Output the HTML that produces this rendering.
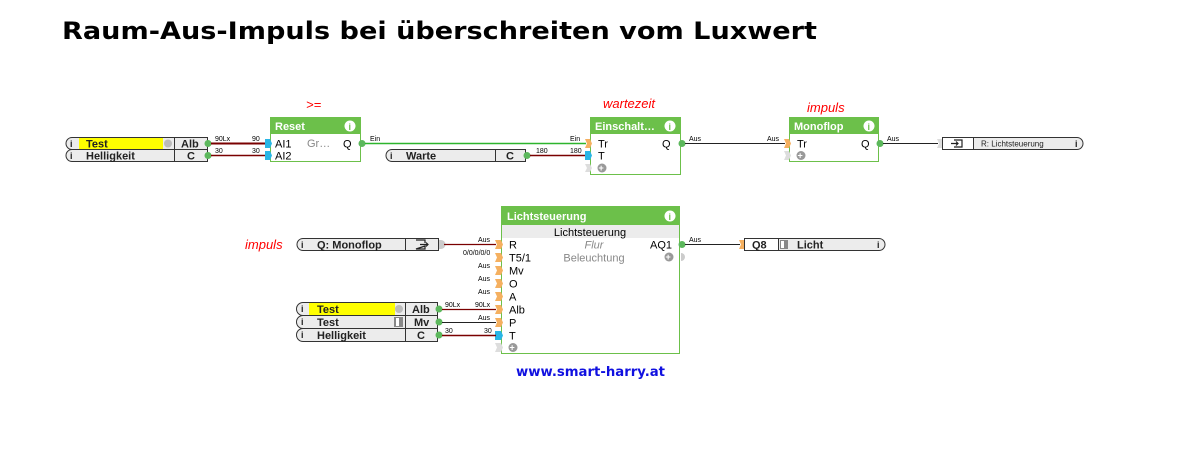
<!DOCTYPE html>
<html><head><meta charset="utf-8"><style>
html,body{margin:0;padding:0;background:#fff;width:1195px;height:453px;overflow:hidden}
svg{display:block}
text{font-family:"Liberation Sans",Arial,sans-serif}
.t{font-size:11px;fill:#000}
.tb{font-size:11px;font-weight:bold;fill:#222}
.s{font-size:7px;fill:#000}
.h{font-size:11px;font-weight:bold;fill:#fff}
.g{font-size:11px;fill:#888}
.red{font-size:13px;font-style:italic;fill:#f00}
.pill{fill:#ececec;stroke:#333;stroke-width:1}
.ii{font-size:9px;font-weight:bold;fill:#222}
</style></head><body>
<svg width="1195" height="453" xmlns="http://www.w3.org/2000/svg">
<text x="62" y="39" style="font-family:'DejaVu Sans',Verdana,sans-serif;font-weight:bold;font-size:24px" textLength="755" lengthAdjust="spacingAndGlyphs">Raum-Aus-Impuls bei überschreiten vom Luxwert</text>

<path class="pill" d="M72,137.5H207.5V149.5H72A6,6 0 0 1 72,137.5Z"/>
<path class="pill" d="M72,149.5H207.5V161.5H72A6,6 0 0 1 72,149.5Z"/>
<rect x="79" y="138" width="84" height="11" fill="#ffff00"/>
<circle cx="168" cy="143.5" r="4" fill="#bbb"/>
<line x1="174.5" y1="137.5" x2="174.5" y2="161.5" stroke="#333"/>
<text x="70" y="147" class="ii">i</text><text x="70" y="159" class="ii">i</text>
<text x="86" y="147.5" class="tb">Test</text>
<text x="86" y="159.5" class="tb">Helligkeit</text>
<text x="181" y="147.5" class="tb">Alb</text>
<text x="187" y="159.5" class="tb">C</text>
<circle cx="208" cy="143.5" r="3.5" fill="#5cb85c"/><circle cx="208" cy="155.5" r="3.5" fill="#5cb85c"/>
<line x1="211" y1="143.5" x2="266" y2="143.5" stroke="#7a0000" stroke-width="2"/>
<line x1="211" y1="155.5" x2="266" y2="155.5" stroke="#7a0000" stroke-width="1.5"/>
<text x="215" y="141" class="s">90Lx</text><text x="252" y="141" class="s">90</text>
<text x="215" y="153" class="s">30</text><text x="252" y="153" class="s">30</text>

<text x="306" y="109" class="red" font-style="normal" font-size="12">&gt;=</text>
<rect x="270.5" y="117.5" width="90" height="44" fill="#fff" stroke="#6cc04a"/>
<rect x="270" y="117" width="91" height="17" fill="#6cc04a"/>
<text x="275" y="130" class="h">Reset</text>
<circle cx="350" cy="126" r="5.5" fill="#fff"/><text x="348.5" y="130" font-size="9" font-weight="bold" fill="#6cc04a">i</text>
<path d="M265,139H270L272,143.5L270,148H265Z" fill="#29b6e6"/>
<path d="M265,151H270L272,155.5L270,160H265Z" fill="#29b6e6"/>
<text x="275" y="147.5" class="t">AI1</text><text x="275" y="159.5" class="t">AI2</text>
<text x="307" y="147" class="g">Gr…</text><text x="343" y="147.5" class="t">Q</text>
<circle cx="362" cy="143.5" r="3.5" fill="#5cb85c"/>
<line x1="365" y1="143.5" x2="586" y2="143.5" stroke="#2db52d" stroke-width="1.5"/>
<text x="370" y="141" class="s">Ein</text><text x="570" y="141" class="s">Ein</text>

<path class="pill" d="M392,149.5H525.5V161.5H392A6,6 0 0 1 392,149.5Z"/>
<line x1="495.5" y1="149.5" x2="495.5" y2="161.5" stroke="#333"/>
<text x="390" y="159" class="ii">i</text>
<text x="406" y="159.5" class="tb">Warte</text><text x="506" y="159.5" class="tb">C</text>
<circle cx="527" cy="155.5" r="3.5" fill="#5cb85c"/>
<line x1="530" y1="155.5" x2="586" y2="155.5" stroke="#7a0000" stroke-width="1.5"/>
<text x="536" y="153" class="s">180</text><text x="570" y="153" class="s">180</text>

<text x="603" y="108" class="red">wartezeit</text>
<rect x="590.5" y="117.5" width="90" height="57" fill="#fff" stroke="#6cc04a"/>
<rect x="590" y="117" width="91" height="17" fill="#6cc04a"/>
<text x="595" y="130" class="h">Einschalt…</text>
<circle cx="670" cy="126" r="5.5" fill="#fff"/><text x="668.5" y="130" font-size="9" font-weight="bold" fill="#6cc04a">i</text>
<path d="M585,139H590L592,143.5L590,148H585L587,143.5Z" fill="#f5b060"/>
<path d="M585,151H590L592,155.5L590,160H585Z" fill="#29b6e6"/>
<path d="M585,164H590L592,168L590,172H585L587,168Z" fill="#ddd"/>
<text x="598" y="147.5" class="t">Tr</text><text x="598" y="159.5" class="t">T</text>
<circle cx="602" cy="168" r="4.5" fill="#999"/><text x="598.5" y="171" font-size="9" fill="#fff" font-weight="bold">+</text>
<text x="662" y="147.5" class="t">Q</text>
<circle cx="682" cy="143.5" r="3.5" fill="#5cb85c"/>
<line x1="685" y1="143.5" x2="785" y2="143.5" stroke="#222"/>
<text x="689" y="141" class="s">Aus</text><text x="767" y="141" class="s">Aus</text>

<text x="807" y="112" class="red">impuls</text>
<rect x="789.5" y="117.5" width="89" height="44" fill="#fff" stroke="#6cc04a"/>
<rect x="789" y="117" width="90" height="17" fill="#6cc04a"/>
<text x="794" y="130" class="h">Monoflop</text>
<circle cx="869" cy="126" r="5.5" fill="#fff"/><text x="867.5" y="130" font-size="9" font-weight="bold" fill="#6cc04a">i</text>
<path d="M784,139H789L791,143.5L789,148H784L786,143.5Z" fill="#f5b060"/>
<path d="M784,151H789L791,155.5L789,160H784L786,155.5Z" fill="#ddd"/>
<text x="797" y="147.5" class="t">Tr</text><text x="861" y="147.5" class="t">Q</text>
<circle cx="801" cy="155.5" r="4.5" fill="#999"/><text x="797.5" y="158.5" font-size="9" fill="#fff" font-weight="bold">+</text>
<circle cx="880" cy="143.5" r="3.5" fill="#5cb85c"/>
<line x1="883" y1="143.5" x2="938" y2="143.5" stroke="#222"/>
<text x="887" y="141" class="s">Aus</text>
<path d="M937,139H942V148H937L939,143.5Z" fill="#ddd"/>
<path class="pill" d="M942.5,137.5H1077A6,6 0 0 1 1077,149.5H942.5Z"/>
<rect x="943" y="138" width="30" height="11" fill="#fff"/>
<line x1="973.5" y1="137.5" x2="973.5" y2="149.5" stroke="#333"/>
<path d="M954,140H962V147H954M951,143.5H958M956,141.5L958,143.5L956,145.5" fill="none" stroke="#222" stroke-width="1.2"/>
<text x="981" y="146.5" font-size="8" fill="#222">R: Lichtsteuerung</text>
<text x="1075" y="147" class="ii">i</text>

<text x="245" y="249" class="red">impuls</text>
<path class="pill" d="M303,238.5H438.5V250.5H303A6,6 0 0 1 303,238.5Z"/>
<line x1="405.5" y1="238.5" x2="405.5" y2="250.5" stroke="#333"/>
<text x="301" y="248" class="ii">i</text>
<text x="317" y="248.5" class="tb">Q: Monoflop</text>
<path d="M416,240H425V243M425,246V249H416ZM420,244.5H428M426,242.5L428,244.5L426,246.5" fill="none" stroke="#222" stroke-width="1.2"/>
<path d="M439,240H441A4,4 0 0 1 441,249H439Z" fill="#ccc"/>
<line x1="444" y1="244.5" x2="496" y2="244.5" stroke="#7a0000" stroke-width="1.2"/>
<text x="478" y="242" class="s">Aus</text>

<rect x="501.5" y="206.5" width="178" height="147" fill="#fff" stroke="#6cc04a"/>
<rect x="501" y="206" width="179" height="19" fill="#6cc04a"/>
<text x="507" y="220" class="h">Lichtsteuerung</text>
<circle cx="670" cy="216" r="5.5" fill="#fff"/><text x="668.5" y="220" font-size="9" font-weight="bold" fill="#6cc04a">i</text>
<rect x="502" y="225" width="177" height="13" fill="#ececec"/>
<text x="590" y="236" class="t" fill="#333" text-anchor="middle">Lichtsteuerung</text>
<text x="594" y="248.5" class="g" text-anchor="middle" font-style="italic">Flur</text>
<text x="594" y="261.5" class="g" text-anchor="middle">Beleuchtung</text>
<text x="650" y="248.5" class="t">AQ1</text>
<circle cx="669" cy="257" r="4.5" fill="#999"/><text x="665.5" y="260" font-size="9" fill="#fff" font-weight="bold">+</text>
<circle cx="682" cy="244.5" r="3.5" fill="#5cb85c"/>
<path d="M681,253A4,4 0 0 1 681,261Z" fill="#ccc"/>
<line x1="685" y1="244.5" x2="740" y2="244.5" stroke="#222"/>
<text x="689" y="242" class="s">Aus</text>

<g fill="#f5b060">
<path d="M495,240H501L503,244.5L501,249H495L497,244.5Z"/>
<path d="M495,253H501L503,257.5L501,262H495L497,257.5Z"/>
<path d="M495,266H501L503,270.5L501,275H495L497,270.5Z"/>
<path d="M495,279H501L503,283.5L501,288H495L497,283.5Z"/>
<path d="M495,292H501L503,296.5L501,301H495L497,296.5Z"/>
<path d="M495,305H501L503,309.5L501,314H495L497,309.5Z"/>
<path d="M495,318H501L503,322.5L501,327H495L497,322.5Z"/>
</g>
<path d="M495,331H501L503,335.5L501,340H495Z" fill="#29b6e6"/>
<path d="M495,343H501L503,347.5L501,352H495L497,347.5Z" fill="#ddd"/>
<text x="509" y="248.5" class="t">R</text><text x="509" y="261.5" class="t">T5/1</text>
<text x="509" y="274.5" class="t">Mv</text><text x="509" y="287.5" class="t">O</text>
<text x="509" y="300.5" class="t">A</text><text x="509" y="313.5" class="t">Alb</text>
<text x="509" y="326.5" class="t">P</text><text x="509" y="339.5" class="t">T</text>
<circle cx="513" cy="347.5" r="4.5" fill="#999"/><text x="509.5" y="350.5" font-size="9" fill="#fff" font-weight="bold">+</text>
<text x="463" y="255" class="s">0/0/0/0/0</text>
<text x="478" y="268" class="s">Aus</text><text x="478" y="281" class="s">Aus</text><text x="478" y="294" class="s">Aus</text>

<path class="pill" d="M303,302.5H437.5V315.5H303A6,6 0 0 1 303,302.5Z"/>
<path class="pill" d="M303,315.5H437.5V328.5H303A6,6 0 0 1 303,315.5Z"/>
<path class="pill" d="M303,328.5H437.5V341.5H303A6,6 0 0 1 303,328.5Z"/>
<rect x="309" y="303" width="86" height="12" fill="#ffff00"/>
<circle cx="399" cy="309" r="4" fill="#bbb"/>
<rect x="394" y="317" width="9" height="10" fill="#888"/><rect x="396" y="318" width="3" height="8" fill="#fff"/>
<line x1="405.5" y1="302.5" x2="405.5" y2="341.5" stroke="#333"/>
<text x="301" y="312" class="ii">i</text><text x="301" y="325" class="ii">i</text><text x="301" y="338" class="ii">i</text>
<text x="317" y="313" class="tb">Test</text><text x="317" y="326" class="tb">Test</text><text x="317" y="339" class="tb">Helligkeit</text>
<text x="412" y="313" class="tb">Alb</text><text x="414" y="326" class="tb">Mv</text><text x="417" y="339" class="tb">C</text>
<circle cx="439" cy="309" r="3.5" fill="#5cb85c"/><circle cx="439" cy="322" r="3.5" fill="#5cb85c"/><circle cx="439" cy="335" r="3.5" fill="#5cb85c"/>
<line x1="442" y1="309.5" x2="496" y2="309.5" stroke="#7a0000" stroke-width="1.2"/>
<line x1="442" y1="322.5" x2="496" y2="322.5" stroke="#222"/>
<line x1="442" y1="335.5" x2="496" y2="335.5" stroke="#7a0000" stroke-width="1.5"/>
<text x="445" y="307" class="s">90Lx</text><text x="475" y="307" class="s">90Lx</text>
<text x="478" y="320" class="s">Aus</text>
<text x="445" y="333" class="s">30</text><text x="484" y="333" class="s">30</text>

<path d="M739,240H744V249H739L741,244.5Z" fill="#f5b060"/>
<path class="pill" d="M744.5,238.5H879A6,6 0 0 1 879,250.5H744.5Z"/>
<rect x="745" y="239" width="33" height="11" fill="#fff"/>
<line x1="778.5" y1="238.5" x2="778.5" y2="250.5" stroke="#333"/>
<rect x="780" y="240" width="8" height="9" fill="#888"/><rect x="781" y="241" width="3" height="7" fill="#fff"/>
<text x="752" y="248.5" class="tb">Q8</text>
<text x="797" y="248.5" class="tb">Licht</text>
<text x="877" y="248" class="ii">i</text>

<text x="516" y="376" textLength="149" lengthAdjust="spacingAndGlyphs" style="font-family:'DejaVu Sans',Verdana,sans-serif;font-weight:bold;font-size:13px;fill:#1010e0">www.smart-harry.at</text>
</svg>
</body></html>
